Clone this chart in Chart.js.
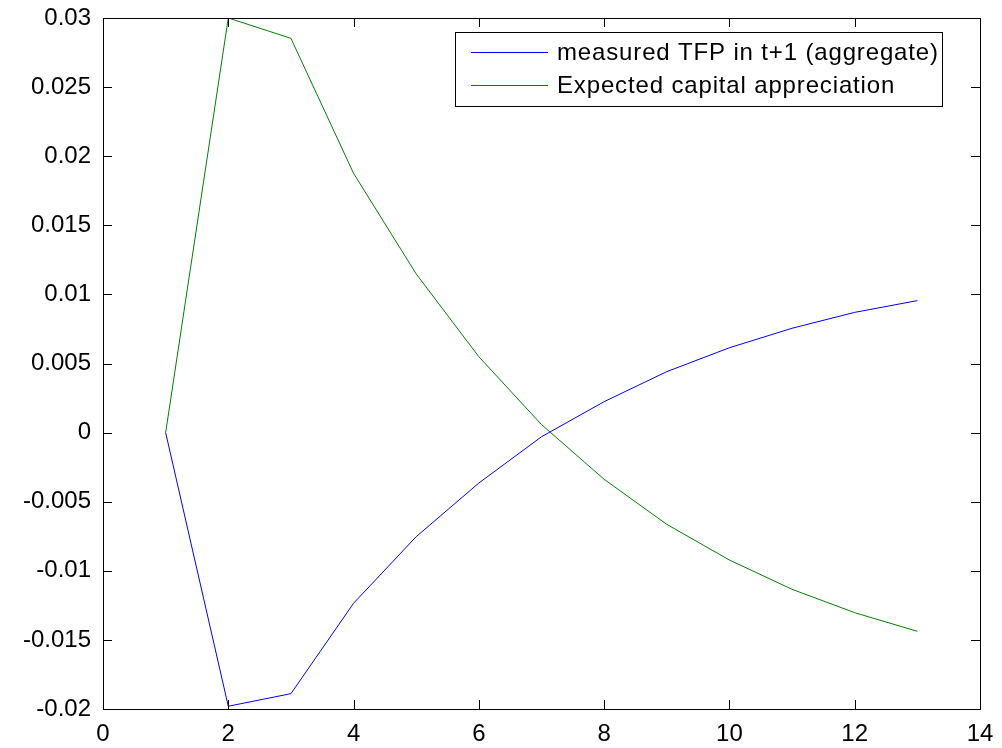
<!DOCTYPE html>
<html>
<head>
<meta charset="utf-8">
<script src="https://cdn.jsdelivr.net/npm/chart.js@4"></script>
<style>
  html, body { margin: 0; padding: 0; background: #fff; }
  #wrap { width: 1002px; height: 748px; }
</style>
</head>
<body>
<div id="wrap"><canvas id="myChart" width="1002" height="748"></canvas></div>
<script>
// data
const PERIODS = [1, 2, 3, 4, 5, 6, 7, 8, 9, 10, 11, 12, 13];
const TFP = [0, -0.0198, -0.01889, -0.01235, -0.00753, -0.00365, -0.0003, 0.00224, 0.00441, 0.00614, 0.00755, 0.0087, 0.00955];
const CAP_APP = [0, 0.0300, 0.02853, 0.01876, 0.01148, 0.00549, 0.00058, -0.00338, -0.00664, -0.00922, -0.01134, -0.01303, -0.01438];
const SERIES_LABELS = ['measured TFP in t+1 (aggregate)', 'Expected capital appreciation'];
const X_TICKS = [0, 2, 4, 6, 8, 10, 12, 14];
const Y_TICKS = [-0.02, -0.015, -0.01, -0.005, 0, 0.005, 0.01, 0.015, 0.02, 0.025, 0.03];

const FONT = 'Liberation Sans, Arial, sans-serif';

function toPoints(ys) {
  return PERIODS.map((x, i) => ({ x: x, y: ys[i] }));
}

// box, inward ticks on all four sides, legend in the top right
const MATLAB_BOX = {
  id: 'matlabBox',
  afterDatasetsDraw(chart) {
    const { ctx, chartArea: a, scales } = chart;
    ctx.save();
    ctx.strokeStyle = '#000';
    ctx.lineWidth = 1;
    const TICK = 9;
    ctx.beginPath();
    X_TICKS.forEach(v => {
      const px = Math.round(scales.x.getPixelForValue(v)) + 0.5;
      ctx.moveTo(px, a.bottom); ctx.lineTo(px, a.bottom - TICK);
      ctx.moveTo(px, a.top); ctx.lineTo(px, a.top + TICK);
    });
    Y_TICKS.forEach(v => {
      const py = Math.round(scales.y.getPixelForValue(v)) + 0.5;
      ctx.moveTo(a.left, py); ctx.lineTo(a.left + TICK, py);
      ctx.moveTo(a.right, py); ctx.lineTo(a.right - TICK, py);
    });
    ctx.stroke();
    ctx.strokeRect(Math.round(a.left) + 0.5, Math.round(a.top) + 0.5,
      Math.round(a.right - a.left), Math.round(a.bottom - a.top));

    // legend
    const LX = 455, LY = 32, LW = 487, LH = 74;
    ctx.fillStyle = '#fff';
    ctx.fillRect(LX, LY, LW, LH);
    ctx.strokeRect(LX + 0.5, LY + 0.5, LW, LH);
    ctx.font = '24px ' + FONT;
    ctx.letterSpacing = '0.85px';
    ctx.textBaseline = 'middle';
    chart.data.datasets.forEach((ds, i) => {
      const y = LY + 20.5 + i * 33;
      ctx.strokeStyle = ds.borderColor;
      ctx.beginPath();
      ctx.moveTo(471, y); ctx.lineTo(548, y);
      ctx.stroke();
      ctx.fillStyle = '#000';
      ctx.fillText(ds.label, 557, y + 1);
    });
    ctx.restore();
  }
};

const CONFIG = {
  type: 'line',
  data: {
    datasets: [
      { label: SERIES_LABELS[0], data: toPoints(TFP), borderColor: '#0000ff', borderWidth: 1, pointRadius: 0, fill: false, tension: 0 },
      { label: SERIES_LABELS[1], data: toPoints(CAP_APP), borderColor: '#008000', borderWidth: 1, pointRadius: 0, fill: false, tension: 0 }
    ]
  },
  options: {
    responsive: false,
    animation: false,
    layout: { padding: { top: 18, right: 22, left: 0, bottom: 0 } },
    plugins: {
      legend: { display: false },
      tooltip: { enabled: false }
    },
    scales: {
      x: {
        type: 'linear',
        min: 0,
        max: 14,
        afterBuildTicks(scale) { scale.ticks = X_TICKS.map(v => ({ value: v })); },
        afterFit(scale) { scale.height = 39; scale.paddingLeft = 0; scale.paddingRight = 0; },
        grid: { display: false, drawTicks: false },
        border: { display: false },
        ticks: { color: '#000', font: { family: FONT, size: 24 }, padding: 11, maxRotation: 0 }
      },
      y: {
        type: 'linear',
        min: -0.02,
        max: 0.03,
        afterBuildTicks(scale) { scale.ticks = Y_TICKS.map(v => ({ value: v })); },
        afterFit(scale) { scale.width = 103; scale.paddingTop = 0; scale.paddingBottom = 0; },
        grid: { display: false, drawTicks: false },
        border: { display: false },
        ticks: {
          color: '#000',
          font: { family: FONT, size: 24 },
          padding: 12,
          callback: v => String(+Number(v).toFixed(3))
        }
      }
    }
  },
  plugins: [MATLAB_BOX]
};

const MY_CHART = new Chart(document.getElementById('myChart'), CONFIG);
</script>
</body>
</html>
